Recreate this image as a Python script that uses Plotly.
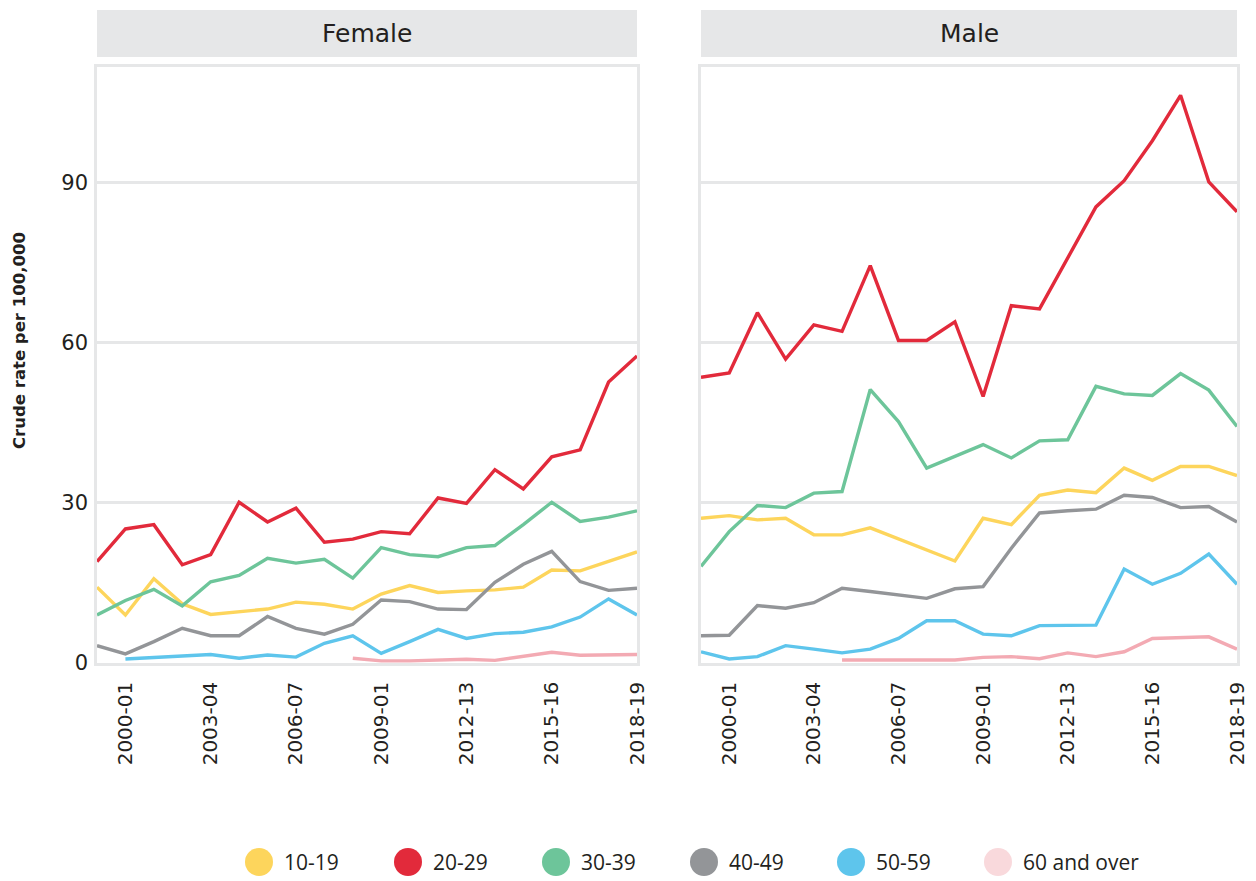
import plotly.graph_objects as go

years = ["1999-00", "2000-01", "2001-02", "2002-03", "2003-04", "2004-05", "2005-06",
         "2006-07", "2007-08", "2008-09", "2009-10", "2010-11", "2011-12", "2012-13",
         "2013-14", "2014-15", "2015-16", "2016-17", "2017-18", "2018-19"]
tick_positions = ["2000-01", "2003-04", "2006-07", "2009-10", "2012-13", "2015-16", "2018-19"]
tick_labels = ["2000-01", "2003-04", "2006-07", "2009-01", "2012-13", "2015-16", "2018-19"]

groups = ["10-19", "20-29", "30-39", "40-49", "50-59", "60 and over"]
N = None

female_10_19 = [14.2, 9.0, 15.8, 11.1, 9.1, 9.6, 10.1, 11.4, 11.0, 10.1, 12.9, 14.5, 13.2, 13.5, 13.7, 14.2, 17.4, 17.25, 19.0, 20.8]
female_20_29 = [19.0, 25.1, 25.9, 18.4, 20.3, 30.1, 26.4, 29.0, 22.6, 23.2, 24.6, 24.2, 30.9, 29.9, 36.2, 32.6, 38.6, 39.9, 52.6, 57.5]
female_30_39 = [9.0, 11.7, 13.8, 10.7, 15.2, 16.4, 19.6, 18.7, 19.4, 15.9, 21.6, 20.3, 19.9, 21.6, 22.0, 25.9, 30.1, 26.5, 27.3, 28.5]
female_40_49 = [3.25, 1.7, 4.0, 6.5, 5.1, 5.1, 8.7, 6.5, 5.4, 7.25, 11.8, 11.5, 10.1, 10.0, 15.1, 18.5, 20.9, 15.25, 13.6, 14.0]
female_50_59 = [N, 0.75, 1.0, 1.3, 1.6, 0.9, 1.5, 1.1, 3.7, 5.1, 1.8, 4.0, 6.3, 4.6, 5.5, 5.75, 6.75, 8.6, 12.0, 9.0]
female_60_over = [N, N, N, N, N, N, N, N, N, 0.9, 0.4, 0.4, 0.6, 0.7, 0.5, 1.3, 2.0, 1.45, 1.55, 1.6]

male_10_19 = [27.1, 27.6, 26.8, 27.1, 24.0, 24.0, 25.3, 23.2, 21.1, 19.1, 27.1, 25.9, 31.4, 32.4, 31.9, 36.5, 34.2, 36.8, 36.8, 35.1]
male_20_29 = [53.5, 54.3, 65.6, 56.9, 63.3, 62.1, 74.4, 60.4, 60.4, 63.9, 49.9, 66.9, 66.3, 75.7, 85.4, 90.3, 97.8, 106.3, 90.1, 84.5]
male_30_39 = [18.1, 24.6, 29.5, 29.1, 31.8, 32.1, 51.2, 45.2, 36.5, 38.7, 40.9, 38.4, 41.6, 41.8, 51.8, 50.4, 50.1, 54.2, 51.1, 44.3]
male_40_49 = [5.1, 5.2, 10.75, 10.25, 11.3, 14.0, 13.4, 12.75, 12.1, 13.9, 14.3, 21.5, 28.1, 28.5, 28.8, 31.4, 31.0, 29.1, 29.3, 26.4]
male_50_59 = [2.1, 0.75, 1.2, 3.25, 2.6, 1.9, 2.6, 4.6, 7.9, 7.9, 5.4, 5.1, 7.0, 7.0, 7.1, 17.6, 14.75, 16.8, 20.4, 14.75]
male_60_over = [N, N, N, N, N, 0.56, 0.56, 0.56, 0.56, 0.56, 1.06, 1.2, 0.8, 1.9, 1.2, 2.1, 4.6, 4.75, 4.9, 2.6]

line_colors = ["#FDD55C", "#E22A3B", "#6DC59A", "#939598", "#5EC5EC", "#F3AAB3"]
legend_colors = ["#FDD55C", "#E22A3B", "#6DC59A", "#939598", "#5EC5EC", "#F9D9DC"]

female = [female_10_19, female_20_29, female_30_39, female_40_49, female_50_59, female_60_over]
male = [male_10_19, male_20_29, male_30_39, male_40_49, male_50_59, male_60_over]

W, H = 1256, 881          # design frame (element placement as page fractions)
FIG_W, FIG_H = 1268, 893  # rendered figure size
FONT = "DejaVu Sans"
LEG_FONT = "Open Sans"
TXT = "#231F20"
GRID = "#E6E7E8"

def px_x(p):
    return p / W

def px_y(p):
    return 1 - p / H

fig = go.Figure()
for i, g in enumerate(groups):
    fig.add_trace(go.Scatter(x=years, y=female[i], mode="lines", name=g,
                             line=dict(color=line_colors[i], width=3.4),
                             xaxis="x", yaxis="y", showlegend=False))
    fig.add_trace(go.Scatter(x=years, y=male[i], mode="lines", name=g,
                             line=dict(color=line_colors[i], width=3.4),
                             xaxis="x2", yaxis="y2", showlegend=False))

ydom = [px_y(663), px_y(67)]
xaxis_common = dict(
    type="category", categoryorder="array", categoryarray=years,
    range=[0, len(years) - 1], tickmode="array", tickvals=tick_positions,
    ticktext=tick_labels, tickangle=-90, showgrid=False, zeroline=False,
    showline=True, linecolor=GRID, linewidth=2.5, mirror=True, ticks="",
    tickfont=dict(family=FONT, size=20, color=TXT), ticklabelstandoff=8,
)
yaxis_common = dict(
    range=[0, 111.6], tickvals=[0, 30, 60, 90], showgrid=True, gridcolor=GRID,
    gridwidth=2.5, zeroline=False, showline=True, linecolor=GRID, linewidth=2.5,
    mirror=True, ticks="",
)

fig.update_layout(
    width=FIG_W, height=FIG_H, margin=dict(l=0, r=0, t=0, b=0),
    plot_bgcolor="white", paper_bgcolor="white", showlegend=False,
    xaxis=dict(domain=[px_x(97), px_x(637)], anchor="y", **xaxis_common),
    xaxis2=dict(domain=[px_x(701), px_x(1237)], anchor="y2", **xaxis_common),
    yaxis=dict(domain=ydom, anchor="x", tickfont=dict(family=FONT, size=21, color=TXT),
               ticklabelstandoff=2, **yaxis_common),
    yaxis2=dict(domain=ydom, anchor="x2", showticklabels=False, matches="y",
                **yaxis_common),
)

shapes = []
annotations = []
# facet strips
for (x0, x1, label) in [(97, 637, "Female"), (701, 1237, "Male")]:
    shapes.append(dict(type="rect", xref="paper", yref="paper",
                       x0=px_x(x0), x1=px_x(x1), y0=px_y(57), y1=px_y(10),
                       fillcolor=GRID, line=dict(width=0), layer="below"))
    annotations.append(dict(text=label, xref="paper", yref="paper",
                            x=px_x((x0 + x1) / 2), y=px_y(33.5), showarrow=False,
                            xanchor="center", yanchor="middle",
                            font=dict(family=FONT, size=25, color=TXT)))

# y axis title
annotations.append(dict(text="<b>Crude rate per 100,000</b>", xref="paper", yref="paper",
                        x=px_x(19), y=px_y(341), textangle=-90, showarrow=False,
                        xanchor="center", yanchor="middle",
                        font=dict(family=FONT, size=16.5, color=TXT)))

# legend
leg_cx = [259, 408, 556, 704, 851, 998]
leg_cy = 862
for i, g in enumerate(groups):
    shapes.append(dict(type="circle", xref="paper", yref="paper",
                       xsizemode="pixel", ysizemode="pixel",
                       xanchor=px_x(leg_cx[i]), yanchor=px_y(leg_cy),
                       x0=-14, x1=14, y0=-14, y1=14,
                       fillcolor=legend_colors[i], line=dict(width=0)))
    annotations.append(dict(text=g, xref="paper", yref="paper",
                            x=px_x(leg_cx[i] + 23), y=px_y(leg_cy), showarrow=False,
                            xanchor="left", yanchor="middle",
                            font=dict(family=LEG_FONT, size=21, color=TXT)))

fig.update_layout(shapes=shapes, annotations=annotations)
fig.write_html(
    "out.html",
    config={"displayModeBar": False},
    post_script=("document.documentElement.style.margin='0';"
                 "document.body.style.margin='0';"),
)
